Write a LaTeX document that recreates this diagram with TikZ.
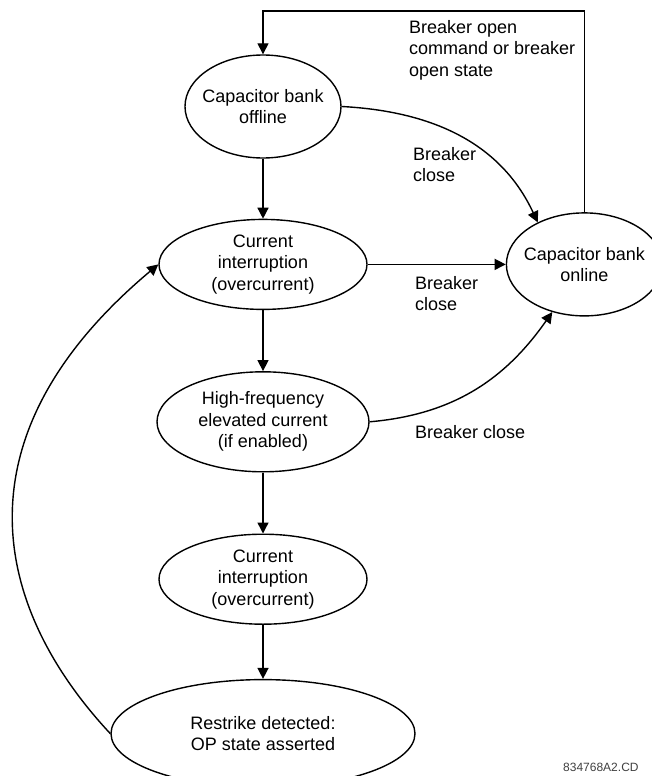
\documentclass[tikz,border=0pt]{standalone}
\usepackage{fontspec}
\setmainfont{Liberation Sans}
\usetikzlibrary{arrows.meta,positioning,shapes.geometric}

\begin{document}
\begin{tikzpicture}[
    x=1pt, y=1pt,
    font=\fontsize{18}{21.5}\selectfont,
    state/.style={
        draw,
        ellipse,
        line width=1.4pt,
        inner sep=0pt,
        inner xsep=-6pt,
        align=center
    },
    note/.style={
        align=left,
        inner sep=0pt,
        anchor=west
    },
    arrow/.style={-{Triangle[length=11pt,width=11pt]}, line width=1.4pt}
]
\useasboundingbox (0,0) rectangle (652,-776);

\node[state, minimum width=156pt, minimum height=103pt] (offline) at (263,-106.5) {Capacitor bank\\offline};
\node[state, minimum width=208pt, minimum height=90pt, below=60pt of offline] (curint) {Current\\interruption\\(overcurrent)};
\node[state, minimum width=212pt, minimum height=100pt, below=61pt of curint] (hifreq) {High-frequency\\elevated current\\(if enabled)};
\node[state, minimum width=208pt, minimum height=90pt, below=61pt of hifreq] (curint2) {Current\\interruption\\(overcurrent)};
\node[state, minimum width=304pt, minimum height=108pt, below=54pt of curint2] (restrike) {Restrike detected:\\OP state asserted};
\node[state, minimum width=156pt, minimum height=103pt, right=138pt of curint] (online) {Capacitor bank\\online};

\draw[arrow] (offline) -- (curint);
\draw[arrow] (curint) -- (hifreq);
\draw[arrow] (hifreq) -- (curint2);
\draw[arrow] (curint2) -- (restrike);
\draw[arrow] (curint) -- (online);
\draw[arrow] (offline.east) to[out=-3, in=115] (online.138);
\draw[arrow] (hifreq.east) to[out=5, in=235] (online.236);
\draw[arrow] (online.north) -- ++(0,201) -| (offline.north);
\draw[arrow] (restrike.west) .. controls +(133:170) and +(220:270) .. (curint.west);

\node[note] (opencmd) at (409,-50) {Breaker open\\command or breaker\\open state};
\node[note] (closeA) at (413,-164.5) {Breaker\\close};
\node[note] (closeB) at (415,-293.5) {Breaker\\close};
\node[note] (closeC) at (415,-432) {Breaker close};
\node[font=\fontsize{12}{14}\selectfont, text=black!75, anchor=south west, inner sep=0pt] (dwgno) at (563,-772) {834768A2.CD};
\end{tikzpicture}
\end{document}
